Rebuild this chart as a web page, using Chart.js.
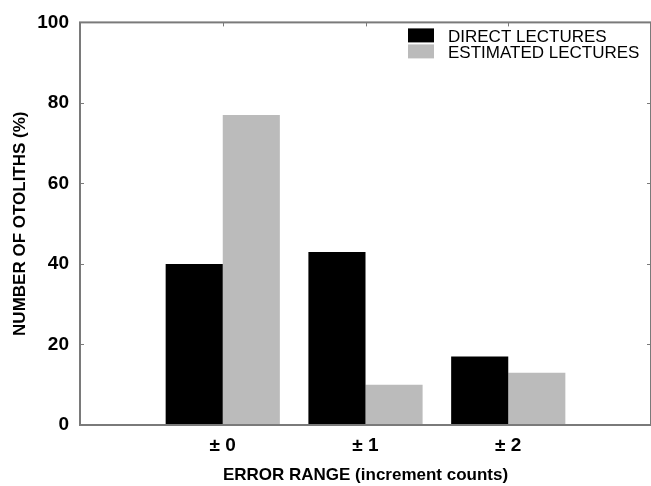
<!DOCTYPE html>
<html>
<head>
<meta charset="utf-8">
<script src="https://cdn.jsdelivr.net/npm/chart.js@4.4.1/dist/chart.umd.min.js"></script>
<style>
  html, body { margin: 0; padding: 0; background: #fff; overflow: hidden; }
  #wrap { width: 660px; height: 486px; }
</style>
</head>
<body>
<div id="wrap"><canvas id="chart" width="660" height="486"></canvas></div>
<script>
// values
const categories = ['\u00B1 0', '\u00B1 1', '\u00B1 2'];
const directLectures = [40, 43, 17];
const estimatedLectures = [77, 10, 13];
const yTicks = [0, 20, 40, 60, 80, 100];

// one empty slot each side so the groups sit where the original has them
const labels = [''].concat(categories, ['']);
const pad = arr => [null].concat(arr, [null]);

const frameColor = '#7a7a7a';
const fontFamily = '"Liberation Sans", Arial, sans-serif';

// frame, inward ticks and the legend inside the plot
const framePlugin = {
    id: 'frame',
    afterDatasetsDraw(chart) {
        const ctx = chart.ctx;
        const area = chart.chartArea;
        const x = chart.scales.x;
        const y = chart.scales.y;
        ctx.save();
        ctx.strokeStyle = frameColor;
        ctx.lineWidth = 2;
        ctx.strokeRect(area.left, area.top, area.right - area.left, area.bottom - area.top);

        ctx.lineWidth = 1;
        yTicks.forEach(v => {
            const py = Math.round(y.getPixelForValue(v)) + 0.5;
            ctx.beginPath();
            ctx.moveTo(area.left, py);
            ctx.lineTo(area.left + 4, py);
            ctx.moveTo(area.right, py);
            ctx.lineTo(area.right - 4, py);
            ctx.stroke();
        });
        categories.forEach((c, i) => {
            const px = Math.round(x.getPixelForValue(i + 1)) + 0.5;
            ctx.beginPath();
            ctx.moveTo(px, area.top);
            ctx.lineTo(px, area.top + 4);
            ctx.stroke();
        });

        // legend
        const lx = area.left + 328;
        let ly = area.top + 6;
        ctx.font = '17px ' + fontFamily;
        ctx.textBaseline = 'middle';
        ctx.textAlign = 'left';
        chart.data.datasets.forEach(ds => {
            ctx.fillStyle = ds.backgroundColor;
            ctx.fillRect(lx, ly, 26, 14);
            ctx.fillStyle = '#000';
            ctx.fillText(ds.label, lx + 40, ly + 9);
            ly += 16;
        });
        ctx.restore();
    }
};

const ctx = document.getElementById('chart').getContext('2d');
const myChart = new Chart(ctx, {
    type: 'bar',
    data: {
        labels: labels,
        datasets: [{
            label: 'DIRECT LECTURES',
            data: pad(directLectures),
            backgroundColor: '#000000',
            borderWidth: 0
        }, {
            label: 'ESTIMATED LECTURES',
            data: pad(estimatedLectures),
            backgroundColor: '#bbbbbb',
            borderWidth: 0
        }]
    },
    options: {
        responsive: false,
        animation: false,
        layout: { padding: { top: 22, right: 6, left: 0, bottom: 0 } },
        datasets: {
            bar: { categoryPercentage: 0.8, barPercentage: 1.0 }
        },
        plugins: {
            legend: { display: false },
            tooltip: { enabled: false }
        },
        scales: {
            x: {
                offset: false,
                grid: { display: false, drawTicks: false },
                border: { display: false },
                ticks: {
                    color: '#000',
                    padding: 9,
                    maxRotation: 0,
                    autoSkip: false,
                    font: { family: fontFamily, size: 19, weight: 'bold' }
                },
                title: {
                    display: true,
                    text: 'ERROR RANGE (increment counts)',
                    color: '#000',
                    padding: { top: 4, bottom: 0 },
                    font: { family: fontFamily, size: 17, weight: 'bold' }
                },
                afterFit(scale) { scale.height = 61; }
            },
            y: {
                min: 0,
                max: 100,
                grid: { display: false, drawTicks: false },
                border: { display: false },
                ticks: {
                    stepSize: 20,
                    color: '#000',
                    padding: 11,
                    font: { family: fontFamily, size: 19, weight: 'bold' }
                },
                title: {
                    display: true,
                    text: 'NUMBER OF OTOLITHS (%)',
                    color: '#000',
                    padding: { top: 10, bottom: 4 },
                    font: { family: fontFamily, size: 17, weight: 'bold' }
                },
                afterFit(scale) { scale.width = 80; }
            }
        }
    },
    plugins: [framePlugin]
});
</script>
</body>
</html>
